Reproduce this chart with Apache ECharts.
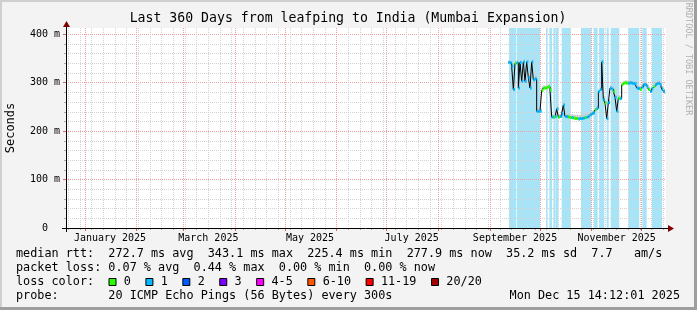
<!DOCTYPE html>
<html><head><meta charset="utf-8">
<script src="https://cdn.jsdelivr.net/npm/echarts@6/dist/echarts.min.js"></script>
<style>html,body{margin:0;padding:0;background:#f3f3f3}#c{width:697px;height:310px}</style>
</head><body><div id="c"></div>
<script>
// ---------------- data ----------------
const chartTitle = 'Last 360 Days from leafping to India (Mumbai Expansion)';
const yAxisName = 'Seconds';
const rangeStart = '2024-12-20T14:12:01';
const rangeEnd = '2025-12-15T14:12:01';
const yMax = 413;
const yMajorTicks = [100, 200, 300, 400];
const yLabelValues = [0, 100, 200, 300, 400];
const yTickLabels = ['0  ', '100 m', '200 m', '300 m', '400 m'];
const yMinorTicks = [20, 40, 60, 80, 120, 140, 160, 180, 220, 240, 260, 280, 320, 340, 360, 380, 400];
const xLabelDates = ['2025-01-16', '2025-03-16', '2025-05-16', '2025-07-16', '2025-09-16', '2025-11-16'];
const xTickLabels = ['January 2025', 'March 2025', 'May 2025', 'July 2025', 'September 2025', 'November 2025'];
const monthGridDates = ['2025-01-01','2025-02-01','2025-03-01','2025-04-01','2025-05-01','2025-06-01','2025-07-01','2025-08-01','2025-09-01','2025-10-01','2025-11-01','2025-12-01'];
const firstWeekGrid = '2024-12-22';
const firstDataDay = '2025-09-12';
// median rtt (ms), one value per day from firstDataDay
const medianRtt = [
  342,341,334,286,340,341,289,342,303,343,303,343,310,289,343,306,308,241,241,
  241,284,289,289,290,292,285,229,229,230,246,229,230,236,254,230,230,229,228,228,227,226,226,225,226,226,227,228,229,231,234,
  236,238,244,247,282,286,343,265,258,226,259,289,287,282,270,241,268,267,296,299,300,299,299,300,299,298,298,289,288,286,
  291,296,296,292,286,282,288,292,296,298,299,296,287,282,278
];
// upper edge of the smoke (ms)
const smokeTop = [
  346,345,340,300,345,347,298,347,312,348,312,348,318,300,348,314,316,248,247,
  247,292,294,294,295,297,291,235,235,236,252,235,236,243,260,237,236,235,235,235,234,234,234,233,234,234,235,236,236,238,240,
  242,244,250,253,288,292,348,272,265,232,266,295,293,289,277,248,274,273,302,304,305,304,304,305,304,303,303,295,294,292,
  297,302,302,298,292,288,294,298,302,304,305,302,293,288,284
];
// loss class per day (index into lossColors)
const lossClass = [
  1,1,1,1,0,1,1,1,1,1,1,1,1,1,1,1,1,1,1,
  1,0,0,0,0,0,0,1,0,1,1,0,1,1,1,1,1,0,0,1,0,0,0,1,1,1,1,0,1,1,1,
  1,1,0,1,1,1,1,1,0,1,1,1,1,0,1,1,0,1,0,0,0,0,1,1,1,1,1,1,1,0,
  1,1,1,1,0,1,1,0,1,1,1,1,1,1,0
];
// light blue background bands [start, end]
const shadeBands = [
  ['2025-09-12T10:00','2025-09-16T14:00'],
  ['2025-09-17T00:00','2025-10-01T00:00'],
  ['2025-10-04T14:00','2025-10-05T14:00'],
  ['2025-10-06T14:00','2025-10-08T05:00'],
  ['2025-10-09T00:00','2025-10-10T10:00'],
  ['2025-10-10T14:00','2025-10-12T00:00'],
  ['2025-10-14T00:00','2025-10-19T10:00'],
  ['2025-10-25T14:00','2025-10-31T19:00'],
  ['2025-11-02T10:00','2025-11-04T14:00'],
  ['2025-11-05T10:00','2025-11-08T14:00'],
  ['2025-11-10T00:00','2025-11-11T05:00'],
  ['2025-11-12T10:00','2025-11-17T14:00'],
  ['2025-11-23T00:00','2025-11-29T14:00'],
  ['2025-12-01T10:00','2025-12-04T00:00'],
  ['2025-12-07T05:00','2025-12-13T05:00']
];
const lossLegendLabels = ['0', '1', '2', '3', '4-5', '6-10', '11-19', '20/20'];
const lossColors = ['#26ff00', '#00b8ff', '#0059ff', '#7e00ff', '#ff00fe', '#ff5500', '#ff0000', '#a10000'];
const statLines = [
  'median rtt:  272.7 ms avg  343.1 ms max  225.4 ms min  277.9 ms now  35.2 ms sd  7.7   am/s',
  'packet loss: 0.07 % avg  0.44 % max  0.00 % min  0.00 % now',
  'loss color:',
  'probe:       20 ICMP Echo Pings (56 Bytes) every 300s'
];
const timestampText = 'Mon Dec 15 14:12:01 2025';
const sideText = 'RRDTOOL / TOBI OETIKER';

// ---------------- build ----------------
const DAY = 86400000;
const ts = s => Date.parse(s.length === 10 ? s + 'T00:00:00Z' : s + 'Z');
const tStart = ts(rangeStart), tEnd = ts(rangeEnd);
const d0 = ts(firstDataDay);
const dayTs = medianRtt.map((_, i) => d0 + i * DAY);
const weekTicks = [];
for (let t = ts(firstWeekGrid); t < tEnd; t += 7 * DAY) weekTicks.push(t);
const monthTicks = monthGridDates.map(ts);
const xLabelTs = xLabelDates.map(ts);

const FONT = '"DejaVu Sans Mono", monospace';
const MINOR = '#d2d2d2', MAJOR = '#f0a0a0';

const segData = [];
for (let i = 0; i + 1 < dayTs.length; i++) segData.push([dayTs[i], dayTs[i + 1], medianRtt[i], smokeTop[i], lossClass[i]]);

const chart = echarts.init(document.getElementById('c'), null, {renderer: 'canvas'});

const graphics = [];
// frame
graphics.push({type:'rect', shape:{x:0,y:0,width:697,height:2}, style:{fill:'#cfcfcf'}, silent:true});
graphics.push({type:'rect', shape:{x:0,y:0,width:2,height:310}, style:{fill:'#cfcfcf'}, silent:true});
graphics.push({type:'rect', shape:{x:694,y:0,width:3,height:310}, style:{fill:'#9e9e9e'}, silent:true});
graphics.push({type:'rect', shape:{x:0,y:307,width:697,height:3}, style:{fill:'#9e9e9e'}, silent:true});
// title
graphics.push({type:'text', x:348, y:19, style:{text:chartTitle, font:'13.2px ' + FONT, fill:'#000', align:'center', verticalAlign:'middle'}, silent:true});
// y name
graphics.push({type:'text', x:11, y:128, rotation:Math.PI/2, style:{text:yAxisName, font:'12px ' + FONT, fill:'#000', align:'center', verticalAlign:'middle'}, silent:true});
// side text
graphics.push({type:'text', x:688, y:59, rotation:-Math.PI/2, style:{text:sideText, font:'8.5px ' + FONT, fill:'#b0b0b0', align:'center', verticalAlign:'middle'}, silent:true});
// axis extensions and arrows
graphics.push({type:'line', shape:{x1:62, y1:228.5, x2:669, y2:228.5}, style:{stroke:'#000', lineWidth:1}, z:9, silent:true});
graphics.push({type:'line', shape:{x1:66.5, y1:232, x2:66.5, y2:25}, style:{stroke:'#000', lineWidth:1}, z:9, silent:true});
graphics.push({type:'polygon', shape:{points:[[63,27],[70,27],[66.5,21]]}, style:{fill:'#7f0000'}, z:10, silent:true});
graphics.push({type:'polygon', shape:{points:[[668,225],[668,232],[674,228.5]]}, style:{fill:'#7f0000'}, z:10, silent:true});
// stat lines
const lineY = [254.3, 268.3, 282.3, 296.3];
statLines.forEach((s, i) => graphics.push({type:'text', x:16, y:lineY[i], style:{text:s, font:'11.8px ' + FONT, fill:'#000', align:'left', verticalAlign:'middle'}, silent:true}));
graphics.push({type:'text', x:680, y:lineY[3], style:{text:timestampText, font:'11.8px ' + FONT, fill:'#000', align:'right', verticalAlign:'middle'}, silent:true});
// loss legend
let bx = 108.5;
const CW = 7.12;
lossLegendLabels.forEach((lab, i) => {
  graphics.push({type:'rect', shape:{x:bx + 0.5, y:278.5, width:7, height:7}, style:{fill:lossColors[i], stroke:'#000', lineWidth:1}, silent:true});
  graphics.push({type:'text', x:bx + 15.3, y:lineY[2], style:{text:lab, font:'11.8px ' + FONT, fill:'#000', align:'left', verticalAlign:'middle'}, silent:true});
  bx = bx + 15.3 + lab.length * CW + 14.5;
});

const option = {
  backgroundColor: '#f3f3f3',
  animation: false,
  grid: {left:66, top:28, width:600, height:200, show:true, backgroundColor:'#ffffff', borderWidth:0},
  xAxis: [
    {type:'value', min:tStart, max:tEnd, position:'bottom', z:3,
     axisLine:{show:false, onZero:false},
     axisTick:{show:true, customValues:weekTicks, length:2, lineStyle:{color:'#aaaaaa'}},
     axisLabel:{show:false},
     splitLine:{show:true, lineStyle:{color:MINOR, width:1, type:[1,1]}}},
    {type:'value', min:tStart, max:tEnd, position:'bottom', z:3,
     axisLine:{show:false, onZero:false},
     axisTick:{show:true, customValues:monthTicks, length:3, lineStyle:{color:'#e06060'}},
     axisLabel:{show:false},
     splitLine:{show:true, lineStyle:{color:MAJOR, width:1, type:[1,1]}}},
    {type:'value', min:tStart, max:tEnd, position:'bottom', z:3,
     axisLine:{show:false, onZero:false}, axisTick:{show:false}, splitLine:{show:false},
     axisLabel:{show:true, customValues:xLabelTs, margin:5, fontFamily:FONT, fontSize:10, color:'#000',
       formatter: v => xTickLabels[xLabelTs.indexOf(v)]}}
  ],
  yAxis: [
    {type:'value', min:0, max:yMax, position:'left', z:3,
     axisLine:{show:false, onZero:false},
     axisTick:{show:true, customValues:yMinorTicks, length:2, lineStyle:{color:'#aaaaaa'}},
     axisLabel:{show:false},
     splitLine:{show:true, lineStyle:{color:MINOR, width:1, type:[1,1]}}},
    {type:'value', min:0, max:yMax, position:'left', z:3,
     axisLine:{show:false, onZero:false},
     axisTick:{show:true, customValues:yMajorTicks, length:3, lineStyle:{color:'#e06060'}},
     axisLabel:{show:true, customValues:yLabelValues, margin:6, fontFamily:FONT, fontSize:10, color:'#000',
       formatter: v => yTickLabels[yLabelValues.indexOf(v)]},
     splitLine:{show:true, lineStyle:{color:MAJOR, width:1, type:[1,1]}}}
  ],
  series: [
    {type:'custom', z:1, silent:true, xAxisIndex:0, yAxisIndex:0,
     data: shadeBands.map(b => [ts(b[0]), ts(b[1])]),
     encode:{x:[0,1]},
     renderItem: (params, api) => {
       const p0 = api.coord([api.value(0), yMax]);
       const p1 = api.coord([api.value(1), 0]);
       return {type:'rect', shape:{x:p0[0], y:p0[1], width:p1[0]-p0[0], height:p1[1]-p0[1]}, style:{fill:'#a8e4f8'}};
     }},
    {type:'custom', z:4, silent:true, xAxisIndex:0, yAxisIndex:0,
     data: segData, encode:{x:[0,1], y:[2,3]},
     renderItem: (params, api) => {
       const a = api.coord([api.value(0), api.value(3)]);
       const b = api.coord([api.value(1), api.value(2)]);
       return {type:'rect', shape:{x:a[0], y:a[1], width:b[0]-a[0], height:b[1]-a[1]}, style:{fill:'#cccccc'}};
     }},
    {type:'line', z:5, xAxisIndex:0, yAxisIndex:0, step:'end', symbol:'none', silent:true,
     data: dayTs.map((t, i) => [t, medianRtt[i]]),
     lineStyle:{color:'#000', width:1}},
    {type:'custom', z:6, silent:true, xAxisIndex:0, yAxisIndex:0,
     data: segData, encode:{x:[0,1], y:2},
     renderItem: (params, api) => {
       const a = api.coord([api.value(0), api.value(2)]);
       const b = api.coord([api.value(1), api.value(2)]);
       return {type:'rect', shape:{x:a[0], y:a[1]-1.5, width:b[0]-a[0], height:3}, style:{fill:lossColors[api.value(4)]}};
     }}
  ],
  graphic: {elements: graphics}
};
chart.setOption(option);
</script></body></html>
